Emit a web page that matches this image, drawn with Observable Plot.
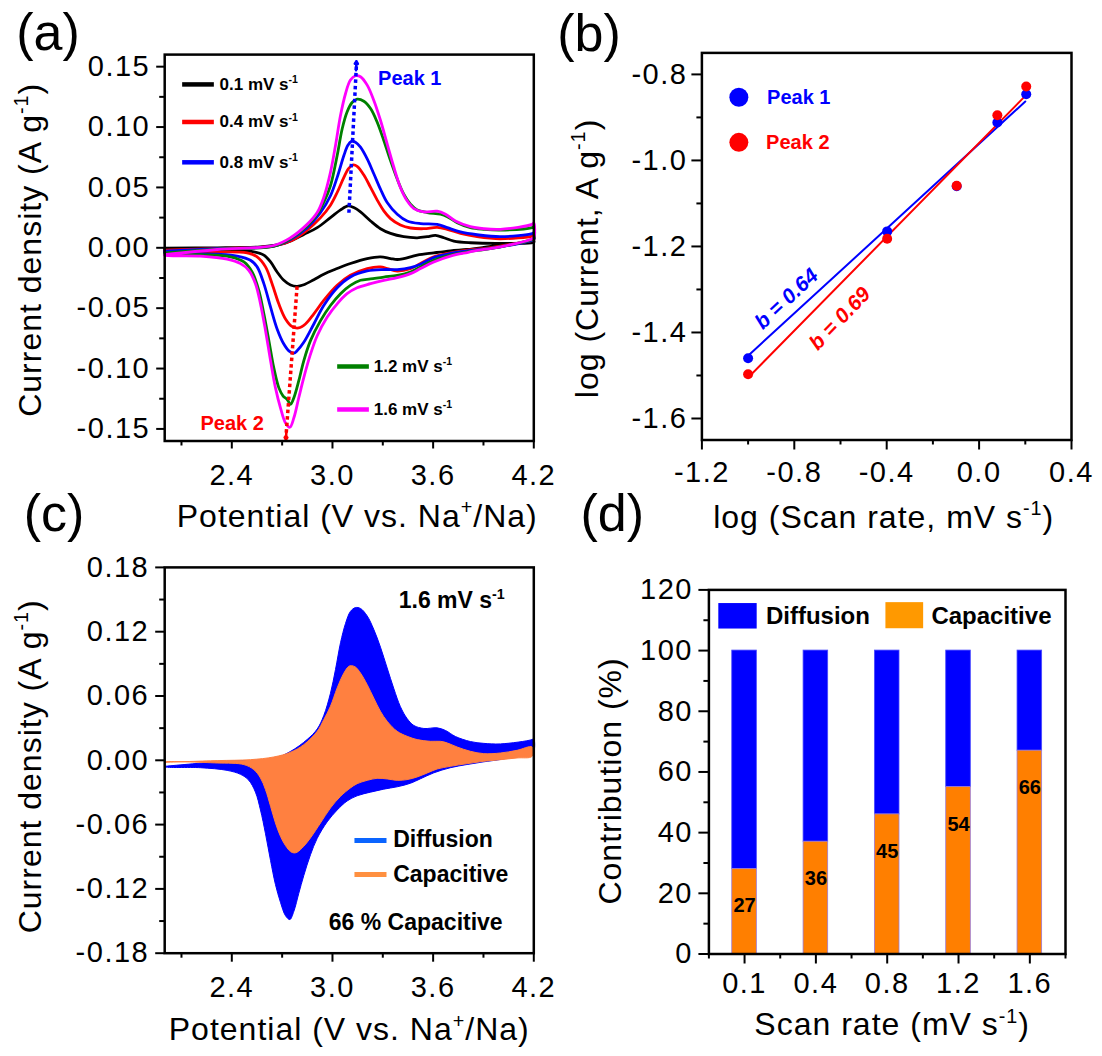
<!DOCTYPE html>
<html>
<head>
<meta charset="utf-8">
<script src="https://cdn.jsdelivr.net/npm/d3@7"></script>
<script src="https://cdn.jsdelivr.net/npm/@observablehq/plot@0.6"></script>
<style>
  body { margin: 0; background: #fff; }
  #fig { position: relative; width: 1102px; height: 1056px; background: #fff; overflow: hidden; }
  .panel { position: absolute; width: 551px; height: 528px; }
  .panel svg { display: block; overflow: visible; }
</style>
</head>
<body>
<div id="fig">
  <div class="panel" id="pa" style="left:0px;top:0px"></div>
  <div class="panel" id="pb" style="left:551px;top:0px"></div>
  <div class="panel" id="pc" style="left:0px;top:528px"></div>
  <div class="panel" id="pd" style="left:551px;top:528px"></div>
</div>
<script>
// ---------------- DATA ----------------
// Panel (a): cyclic voltammograms, [potential V, current A/g]; anodic (up) and cathodic (down) branches
const cv01Up = [[2.0,-0.0003],[2.313,0.0],[2.57,0.0008],[2.65,0.0019],[2.71,0.0036],[2.77,0.0069],[2.829,0.011],[2.909,0.0167],[2.988,0.025],[3.048,0.0314],[3.093,0.0347],[3.127,0.0333],[3.167,0.0297],[3.227,0.0222],[3.286,0.0158],[3.346,0.0119],[3.425,0.0092],[3.505,0.0083],[3.565,0.0092],[3.614,0.0103],[3.664,0.0083],[3.723,0.0056],[3.822,0.0042],[4.001,0.0036],[4.19,0.0047],[4.2,0.006]];
const cv01Down = [[4.2,0.0045],[4.101,0.0036],[4.001,0.0022],[3.902,0.0003],[3.803,-0.0014],[3.703,-0.0025],[3.604,-0.0042],[3.505,-0.0061],[3.425,-0.0089],[3.386,-0.0097],[3.346,-0.0089],[3.286,-0.0075],[3.207,-0.0089],[3.107,-0.013],[3.028,-0.0172],[2.948,-0.0219],[2.889,-0.0264],[2.829,-0.0306],[2.789,-0.0319],[2.75,-0.0308],[2.71,-0.0269],[2.67,-0.02],[2.631,-0.0117],[2.591,-0.0061],[2.531,-0.0033],[2.412,-0.0022],[2.213,-0.0019],[2.0,-0.0019]];
const cv04Up = [[2.0,-0.0019],[2.313,-0.0006],[2.65,0.0014],[2.75,0.0056],[2.849,0.0147],[2.929,0.025],[2.988,0.0353],[3.028,0.0458],[3.068,0.0583],[3.097,0.0658],[3.123,0.0686],[3.147,0.0675],[3.187,0.0603],[3.227,0.05],[3.266,0.0397],[3.306,0.0306],[3.346,0.0242],[3.405,0.0189],[3.465,0.0164],[3.545,0.0158],[3.624,0.0169],[3.684,0.0153],[3.763,0.0119],[3.862,0.0092],[4.001,0.0075],[4.19,0.0097],[4.2,0.0105]];
const cv04Down = [[4.2,0.0065],[4.18,0.0058],[4.001,0.0014],[3.902,-0.0006],[3.803,-0.0019],[3.703,-0.0042],[3.604,-0.0075],[3.525,-0.013],[3.465,-0.0172],[3.386,-0.0192],[3.326,-0.0172],[3.286,-0.0158],[3.207,-0.0172],[3.107,-0.0228],[3.028,-0.0311],[2.948,-0.0436],[2.889,-0.0547],[2.839,-0.0631],[2.799,-0.0664],[2.76,-0.0653],[2.72,-0.0589],[2.68,-0.0464],[2.64,-0.0297],[2.601,-0.0158],[2.551,-0.0075],[2.491,-0.0042],[2.313,-0.0033],[2.0,-0.0033]];
const cv08Up = [[2.0,-0.0028],[2.313,-0.0008],[2.65,0.0014],[2.75,0.0069],[2.849,0.0167],[2.929,0.0292],[2.988,0.0431],[3.028,0.0583],[3.068,0.0764],[3.091,0.0847],[3.113,0.0881],[3.137,0.0875],[3.167,0.0833],[3.207,0.0736],[3.247,0.0611],[3.286,0.0486],[3.326,0.0375],[3.386,0.0278],[3.445,0.0222],[3.525,0.02],[3.624,0.0194],[3.684,0.0167],[3.763,0.0131],[3.862,0.0108],[4.001,0.0092],[4.19,0.0117],[4.2,0.0125]];
const cv08Down = [[4.2,0.0068],[4.18,0.0058],[4.001,0.0008],[3.902,-0.0011],[3.803,-0.0025],[3.703,-0.0047],[3.604,-0.0081],[3.525,-0.0136],[3.465,-0.0164],[3.386,-0.018],[3.306,-0.018],[3.207,-0.0192],[3.107,-0.0242],[3.028,-0.0331],[2.948,-0.0478],[2.889,-0.0631],[2.829,-0.0783],[2.789,-0.0853],[2.77,-0.0872],[2.74,-0.0853],[2.71,-0.0797],[2.67,-0.0672],[2.631,-0.0492],[2.591,-0.0297],[2.551,-0.0158],[2.511,-0.0103],[2.432,-0.0069],[2.313,-0.0053],[2.0,-0.0039]];
const cv12Up = [[2.0,-0.0042],[2.313,-0.0011],[2.65,0.0014],[2.75,0.0075],[2.849,0.0181],[2.909,0.0278],[2.948,0.0375],[2.988,0.0514],[3.028,0.0764],[3.058,0.0986],[3.087,0.1125],[3.117,0.1203],[3.147,0.1231],[3.187,0.1214],[3.227,0.1153],[3.266,0.1042],[3.306,0.0889],[3.346,0.0722],[3.386,0.0569],[3.425,0.0444],[3.465,0.0361],[3.505,0.0314],[3.565,0.0292],[3.644,0.0278],[3.684,0.0258],[3.743,0.0208],[3.822,0.0167],[3.902,0.0153],[4.001,0.0147],[4.19,0.0167],[4.2,0.0175]];
const cv12Down = [[4.2,0.0075],[4.18,0.0064],[4.001,0.0008],[3.902,-0.0014],[3.803,-0.0033],[3.703,-0.0061],[3.604,-0.0103],[3.525,-0.0158],[3.465,-0.02],[3.386,-0.0228],[3.306,-0.0242],[3.227,-0.0258],[3.167,-0.0269],[3.107,-0.0311],[3.048,-0.038],[2.988,-0.0478],[2.929,-0.0603],[2.869,-0.0769],[2.829,-0.0936],[2.799,-0.1103],[2.77,-0.1242],[2.75,-0.1297],[2.73,-0.1256],[2.706,-0.1228],[2.68,-0.1158],[2.65,-0.0992],[2.621,-0.0769],[2.591,-0.0547],[2.561,-0.0353],[2.521,-0.02],[2.472,-0.0117],[2.392,-0.0075],[2.213,-0.0056],[2.0,-0.0047]];
const cv16Up = [[2.0,-0.0056],[2.313,-0.0014],[2.65,0.0019],[2.75,0.0083],[2.849,0.0194],[2.909,0.0292],[2.948,0.0417],[2.988,0.0625],[3.018,0.0847],[3.048,0.1097],[3.078,0.1278],[3.107,0.1389],[3.137,0.1425],[3.167,0.1417],[3.207,0.1347],[3.246,0.1222],[3.286,0.1056],[3.326,0.0861],[3.366,0.0667],[3.405,0.05],[3.445,0.0389],[3.485,0.0325],[3.545,0.0297],[3.624,0.0303],[3.674,0.0278],[3.733,0.0222],[3.822,0.0175],[3.902,0.0158],[4.001,0.0153],[4.19,0.0194],[4.2,0.0205]];
const cv16Down = [[4.2,0.0085],[4.18,0.0069],[4.001,0.0008],[3.902,-0.0014],[3.803,-0.0039],[3.703,-0.0069],[3.604,-0.0117],[3.525,-0.0172],[3.465,-0.0214],[3.386,-0.0247],[3.306,-0.0269],[3.227,-0.0297],[3.147,-0.0331],[3.087,-0.038],[3.028,-0.0464],[2.968,-0.0575],[2.909,-0.0728],[2.869,-0.0881],[2.829,-0.1075],[2.799,-0.1242],[2.77,-0.1408],[2.746,-0.1486],[2.72,-0.145],[2.69,-0.1325],[2.66,-0.1158],[2.631,-0.0936],[2.601,-0.0686],[2.571,-0.0464],[2.541,-0.0297],[2.501,-0.0186],[2.452,-0.0131],[2.372,-0.0094],[2.213,-0.0069],[2.0,-0.0061]];
const rateLabels = ["0.1 mV s^{-1}", "0.4 mV s^{-1}", "0.8 mV s^{-1}", "1.2 mV s^{-1}", "1.6 mV s^{-1}"];
const rateColors = ["#000000", "#FF0000", "#0000FF", "#008000", "#FF00FF"];

// Panel (b): log(scan rate) vs log(peak current), and linear fits
const logScan = [-1.0, -0.398, -0.097, 0.079, 0.204];
const logPeak1 = [-1.460, -1.165, -1.060, -0.912, -0.846];
const logPeak2 = [-1.497, -1.182, -1.059, -0.895, -0.828];
const fitX = [-1.0, 0.2];
const fitPeak1 = [-1.454, -0.863];
const fitPeak2 = [-1.505, -0.850];

// Panel (c): capacitive contribution at 1.6 mV/s (total = cv16 loop)
const capUp = [[2.0,-0.0019],[2.313,-0.0003],[2.511,0.0006],[2.65,0.0031],[2.75,0.0075],[2.829,0.0146],[2.909,0.027],[2.948,0.0379],[2.988,0.0504],[3.028,0.0675],[3.068,0.0814],[3.097,0.0877],[3.113,0.0883],[3.137,0.087],[3.167,0.0814],[3.207,0.0706],[3.246,0.0581],[3.286,0.0457],[3.326,0.0364],[3.386,0.027],[3.445,0.0224],[3.505,0.0193],[3.584,0.0177],[3.644,0.0177],[3.684,0.0162],[3.743,0.0124],[3.822,0.0084],[3.902,0.0062],[4.001,0.0068],[4.1,0.0093],[4.19,0.0124]];
const capDown = [[4.19,0.0037],[4.1,0.0022],[4.001,0.0006],[3.902,-0.0009],[3.803,-0.0031],[3.703,-0.0056],[3.624,-0.0081],[3.565,-0.0118],[3.505,-0.0155],[3.445,-0.018],[3.386,-0.0187],[3.326,-0.0174],[3.266,-0.0168],[3.207,-0.0187],[3.147,-0.0218],[3.107,-0.0258],[3.048,-0.0336],[2.988,-0.0445],[2.929,-0.0584],[2.869,-0.0724],[2.829,-0.0802],[2.789,-0.0858],[2.77,-0.0864],[2.75,-0.0852],[2.72,-0.0796],[2.69,-0.0709],[2.66,-0.0584],[2.631,-0.0429],[2.601,-0.0274],[2.571,-0.0165],[2.531,-0.0087],[2.472,-0.004],[2.313,-0.0025],[2.0,-0.0016]];

// Panel (d): contribution percentages
const scanRates = ["0.1", "0.4", "0.8", "1.2", "1.6"];
const barPos = [1, 2, 3, 4, 5];
const capacitive = [28, 37, 46, 55, 67];
const capLabels = ["27", "36", "45", "54", "66"];

// Tick values
const xMajorCV = [2.4, 3.0, 3.6, 4.2], xMinorCV = [2.1, 2.7, 3.3, 3.9];
const yMajorA = [-0.15, -0.10, -0.05, 0, 0.05, 0.10, 0.15], yMinorA = [-0.125, -0.075, -0.025, 0.025, 0.075, 0.125];
const xMajorB = [-1.2, -0.8, -0.4, 0.0, 0.4], xMinorB = [-1.0, -0.6, -0.2, 0.2];
const yMajorB = [-1.6, -1.4, -1.2, -1.0, -0.8], yMinorB = [-1.5, -1.3, -1.1, -0.9];
const yMajorC = [-0.18, -0.12, -0.06, 0, 0.06, 0.12, 0.18], yMinorC = [-0.15, -0.09, -0.03, 0.03, 0.09, 0.15];
const xMinorD = [0.5, 1.5, 2.5, 3.5, 4.5, 5.5];
const yMajorD = [0, 20, 40, 60, 80, 100, 120], yMinorD = [10, 30, 50, 70, 90, 110];

// ---------------- HELPERS ----------------
const FONT = "'Liberation Sans', Arial, Helvetica, sans-serif";
const TICK_FS = 29, TITLE_FS = 32, PANEL_FS = 52;
const STYLE = {fontFamily: FONT, background: "transparent", overflow: "visible", color: "black"};
const loop = (up, down) => { const p = up.concat(down); p.push(up[0]); return p; };
const X = d => d[0], Y = d => d[1];

function axes(o) {
  return [
    Plot.axisX(o.xMajor, {tickSize: o.major, tickPadding: o.xPad, tickFormat: o.xFmt, fontSize: TICK_FS, strokeWidth: 2, label: null}),
    Plot.axisX(o.xMinor, {tickSize: 5, tickFormat: () => "", strokeWidth: 2, label: null}),
    Plot.axisY(o.yMajor, {tickSize: o.major, tickPadding: o.yPad, tickFormat: o.yFmt, fontSize: TICK_FS, strokeWidth: 2, label: null}),
    Plot.axisY(o.yMinor, {tickSize: 5, tickFormat: () => "", strokeWidth: 2, label: null})
  ];
}
const xTitle = (t, dx, dy) => Plot.text([t], {frameAnchor: "bottom", text: d => d, dx, dy, lineAnchor: "bottom", textAnchor: "middle", fontSize: TITLE_FS});
const yTitle = (t, dx, dy) => Plot.text([t], {frameAnchor: "left", text: d => d, dx, dy, rotate: -90, lineAnchor: "bottom", textAnchor: "middle", fontSize: TITLE_FS});
const panelLabel = (t, dx, dy) => Plot.text([t], {frameAnchor: "top-left", text: d => d, dx, dy, lineAnchor: "bottom", textAnchor: "start", fontSize: PANEL_FS});
const note = (t, x, y, o) => Plot.text([t], Object.assign({x: [x], y: [y], text: d => d, textAnchor: "start", lineAnchor: "middle", fontWeight: "bold"}, o));
const frame = () => Plot.frame({stroke: "black", strokeWidth: 2.5});

// ---------------- PANEL (a) ----------------
const cvSets = [[cv01Up, cv01Down], [cv04Up, cv04Down], [cv08Up, cv08Down], [cv12Up, cv12Down], [cv16Up, cv16Down]];
const legendTop = [0.1353, 0.1042, 0.0708];
const legendBottom = [-0.0983, -0.1339];

const pa = Plot.plot({
  width: 551, height: 528,
  marginLeft: 164.2, marginRight: 17.7, marginTop: 54.1, marginBottom: 87.5,
  x: {domain: [2.0, 4.2], label: null},
  y: {domain: [-0.16, 0.16], label: null},
  style: STYLE,
  marks: [
    ...cvSets.map((s, i) => Plot.line(loop(s[0], s[1]), {x: X, y: Y, stroke: rateColors[i], strokeWidth: 2.8, curve: "catmull-rom"})),
    Plot.link([0], {x1: [3.098], y1: [0.029], x2: [3.143], y2: [0.152], stroke: "#0000FF", strokeWidth: 3.5, strokeDasharray: "3.5,3"}),
    Plot.arrow([0], {x1: [3.1405], y1: [0.147], x2: [3.143], y2: [0.1545], stroke: "#0000FF", strokeWidth: 2.5, headLength: 13, headAngle: 62}),
    Plot.link([0], {x1: [2.789], y1: [-0.032], x2: [2.7225], y2: [-0.157], stroke: "#FF0000", strokeWidth: 3.5, strokeDasharray: "3.5,3"}),
    Plot.arrow([0], {x1: [2.7253], y1: [-0.1525], x2: [2.7222], y2: [-0.159], stroke: "#FF0000", strokeWidth: 2.5, headLength: 13, headAngle: 62}),
    Plot.link(legendTop, {x1: () => 2.104, x2: () => 2.293, y1: d => d, y2: d => d, stroke: (d, i) => rateColors[i], strokeWidth: 4.5}),
    Plot.text(legendTop, {x: () => 2.327, y: d => d, text: (d, i) => rateLabels[i], textAnchor: "start", lineAnchor: "middle", fontWeight: "bold", fontSize: 17}),
    Plot.link(legendBottom, {x1: () => 3.028, x2: () => 3.217, y1: d => d, y2: d => d, stroke: (d, i) => rateColors[i + 3], strokeWidth: 4.5}),
    Plot.text(legendBottom, {x: () => 3.246, y: d => d, text: (d, i) => rateLabels[i + 3], textAnchor: "start", lineAnchor: "middle", fontWeight: "bold", fontSize: 17}),
    note("Peak 1", 3.272, 0.140, {fill: "#0000FF", fontSize: 20}),
    note("Peak 2", 2.213, -0.1457, {fill: "#FF0000", fontSize: 20}),
    frame(),
    ...axes({xMajor: xMajorCV, xMinor: xMinorCV, yMajor: yMajorA, yMinor: yMinorA, major: 8, xPad: 15.5, yPad: 6.5,
             xFmt: d => d.toFixed(1), yFmt: d => d.toFixed(2)}),
    xTitle("Potential (V vs. Na^{+}/Na)", 8, 86.2),
    yTitle("Current density (A g^{-1})", -124.2, 2),
    panelLabel("(a)", -148.4, -5.1)
  ]
});

// ---------------- PANEL (b) ----------------
const pb = Plot.plot({
  width: 551, height: 528,
  marginLeft: 150.4, marginRight: 31, marginTop: 52.4, marginBottom: 88.5,
  x: {domain: [-1.2, 0.4], label: null},
  y: {domain: [-1.65, -0.75], label: null},
  style: STYLE,
  marks: [
    Plot.line(fitX, {x: d => d, y: (d, i) => fitPeak1[i], stroke: "#0000FF", strokeWidth: 2}),
    Plot.line(fitX, {x: d => d, y: (d, i) => fitPeak2[i], stroke: "#FF0000", strokeWidth: 2}),
    Plot.dot(logScan, {x: d => d, y: (d, i) => logPeak1[i], r: 5, fill: "#0000FF"}),
    Plot.dot(logScan, {x: d => d, y: (d, i) => logPeak2[i], r: 5, fill: "#FF0000"}),
    Plot.dot([0], {x: [-1.04], y: [-0.853], r: 9.5, fill: "#0000FF"}),
    Plot.dot([0], {x: [-1.04], y: [-0.958], r: 9.5, fill: "#FF0000"}),
    note("Peak 1", -0.918, -0.853, {fill: "#0000FF", fontSize: 20}),
    note("Peak 2", -0.922, -0.958, {fill: "#FF0000", fontSize: 20}),
    note("b = 0.64", -0.834, -1.322, {fill: "#0000FF", fontSize: 21, fontStyle: "italic", textAnchor: "middle", rotate: -43}),
    note("b = 0.69", -0.603, -1.368, {fill: "#FF0000", fontSize: 21, fontStyle: "italic", textAnchor: "middle", rotate: -46}),
    frame(),
    ...axes({xMajor: xMajorB, xMinor: xMinorB, yMajor: yMajorB, yMinor: yMinorB, major: 10, xPad: 11, yPad: 4.5,
             xFmt: d => d.toFixed(1), yFmt: d => d.toFixed(1)}),
    xTitle("log (Scan rate, mV s^{-1})", -3, 87.5),
    yTitle("log (Current, A g^{-1})", -104.4, 12),
    panelLabel("(b)", -144.7, -2.4)
  ]
});

// ---------------- PANEL (c) ----------------
const pc = Plot.plot({
  width: 551, height: 528,
  marginLeft: 164.2, marginRight: 17.7, marginTop: 38.9, marginBottom: 103.3,
  x: {domain: [2.0, 4.2], label: null},
  y: {domain: [-0.18, 0.18], label: null},
  style: STYLE,
  marks: [
    Plot.line(loop(cv16Up, cv16Down), {x: X, y: Y, fill: "#0000FF", stroke: "#0000FF", strokeWidth: 1, curve: "catmull-rom"}),
    Plot.line(loop(capUp, capDown), {x: X, y: Y, fill: "#FF8040", stroke: "#FF8040", strokeWidth: 1, curve: "catmull-rom"}),
    Plot.link([0], {x1: [3.131], x2: [3.322], y1: [-0.0749], y2: [-0.0749], stroke: "#0A64FF", strokeWidth: 5}),
    Plot.link([0], {x1: [3.131], x2: [3.322], y1: [-0.1066], y2: [-0.1066], stroke: "#FF9040", strokeWidth: 5}),
    note("Diffusion", 3.362, -0.0743, {fontSize: 23}),
    note("Capacitive", 3.362, -0.1066, {fontSize: 23}),
    note("1.6 mV s^{-1}", 3.395, 0.149, {fontSize: 23}),
    note("66 % Capacitive", 2.978, -0.1517, {fontSize: 23}),
    frame(),
    ...axes({xMajor: xMajorCV, xMinor: xMinorCV, yMajor: yMajorC, yMinor: yMinorC, major: 9, xPad: 14, yPad: 6.5,
             xFmt: d => d.toFixed(1), yFmt: d => d.toFixed(2)}),
    xTitle("Potential (V vs. Na^{+}/Na)", 0, 87.2),
    yTitle("Current density (A g^{-1})", -124.2, 6),
    panelLabel("(c)", -140.9, -36.9)
  ]
});

// ---------------- PANEL (d) ----------------
const BAR_INSET = 23.36;
const pd = Plot.plot({
  width: 551, height: 528,
  marginLeft: 157.4, marginRight: 37, marginTop: 61.4, marginBottom: 102.5,
  x: {domain: [0.5, 5.5], label: null},
  y: {domain: [0, 120], label: null},
  style: STYLE,
  marks: [
    Plot.rect(barPos, {x1: d => d - 0.5, x2: d => d + 0.5, y1: (d, i) => capacitive[i], y2: () => 100, insetLeft: BAR_INSET, insetRight: BAR_INSET, fill: "#0000FF", stroke: "#4a4aff", strokeWidth: 0.8}),
    Plot.rect(barPos, {x1: d => d - 0.5, x2: d => d + 0.5, y1: () => 0, y2: (d, i) => capacitive[i], insetLeft: BAR_INSET, insetRight: BAR_INSET, fill: "#FF7F00", stroke: "#9a7ad8", strokeWidth: 0.8}),
    Plot.text(barPos, {x: d => d, y: (d, i) => capacitive[i], text: (d, i) => capLabels[i], dy: 37, lineAnchor: "middle", textAnchor: "middle", fontWeight: "bold", fontSize: 20}),
    Plot.rect([0], {x1: [0.639], x2: [1.177], y1: [107.1], y2: [115.5], fill: "#0000FF"}),
    Plot.rect([0], {x1: [2.982], x2: [3.511], y1: [107.2], y2: [115.8], fill: "#FF9900"}),
    note("Diffusion", 1.30, 111.3, {fontSize: 24}),
    note("Capacitive", 3.62, 111.3, {fontSize: 24}),
    frame(),
    ...axes({xMajor: barPos, xMinor: xMinorD, yMajor: yMajorD, yMinor: yMinorD, major: 10, xPad: 8.5, yPad: 6,
             xFmt: d => scanRates[d - 1], yFmt: d => String(d)}),
    xTitle("Scan rate (mV s^{-1})", 5, 81.4),
    yTitle("Contribution (%)", -88.4, 9),
    panelLabel("(d)", -128.4, -59.4)
  ]
});

document.getElementById("pa").appendChild(pa);
document.getElementById("pb").appendChild(pb);
document.getElementById("pc").appendChild(pc);
document.getElementById("pd").appendChild(pd);

// ---------------- text finishing: slight tracking for regular tick/title text, superscripts ----------------
const NS = "http://www.w3.org/2000/svg";
document.querySelectorAll("#fig svg text").forEach(t => {
  const cs = getComputedStyle(t);
  const fs = parseFloat(cs.fontSize) || 16;
  const w = cs.fontWeight;
  if (w === "400" || w === "normal") {
    if (Math.abs(fs - TICK_FS) < 0.5) t.style.letterSpacing = "1.5px";
    else if (Math.abs(fs - TITLE_FS) < 0.5) t.style.letterSpacing = "1px";
  }
  const s = t.textContent;
  if (!s.includes("^{")) return;
  const parts = s.split(/(\^\{[^}]*\})/);
  while (t.firstChild) t.removeChild(t.firstChild);
  let raised = false;
  for (const p of parts) {
    if (!p) continue;
    const ts = document.createElementNS(NS, "tspan");
    if (p.startsWith("^{")) {
      ts.textContent = p.slice(2, -1);
      ts.setAttribute("font-size", (fs * 0.62).toFixed(1));
      ts.setAttribute("dy", (-fs * 0.40).toFixed(1));
      raised = true;
    } else {
      ts.textContent = p;
      if (raised) { ts.setAttribute("dy", (fs * 0.40).toFixed(1)); raised = false; }
    }
    t.appendChild(ts);
  }
});
</script>
</body>
</html>
